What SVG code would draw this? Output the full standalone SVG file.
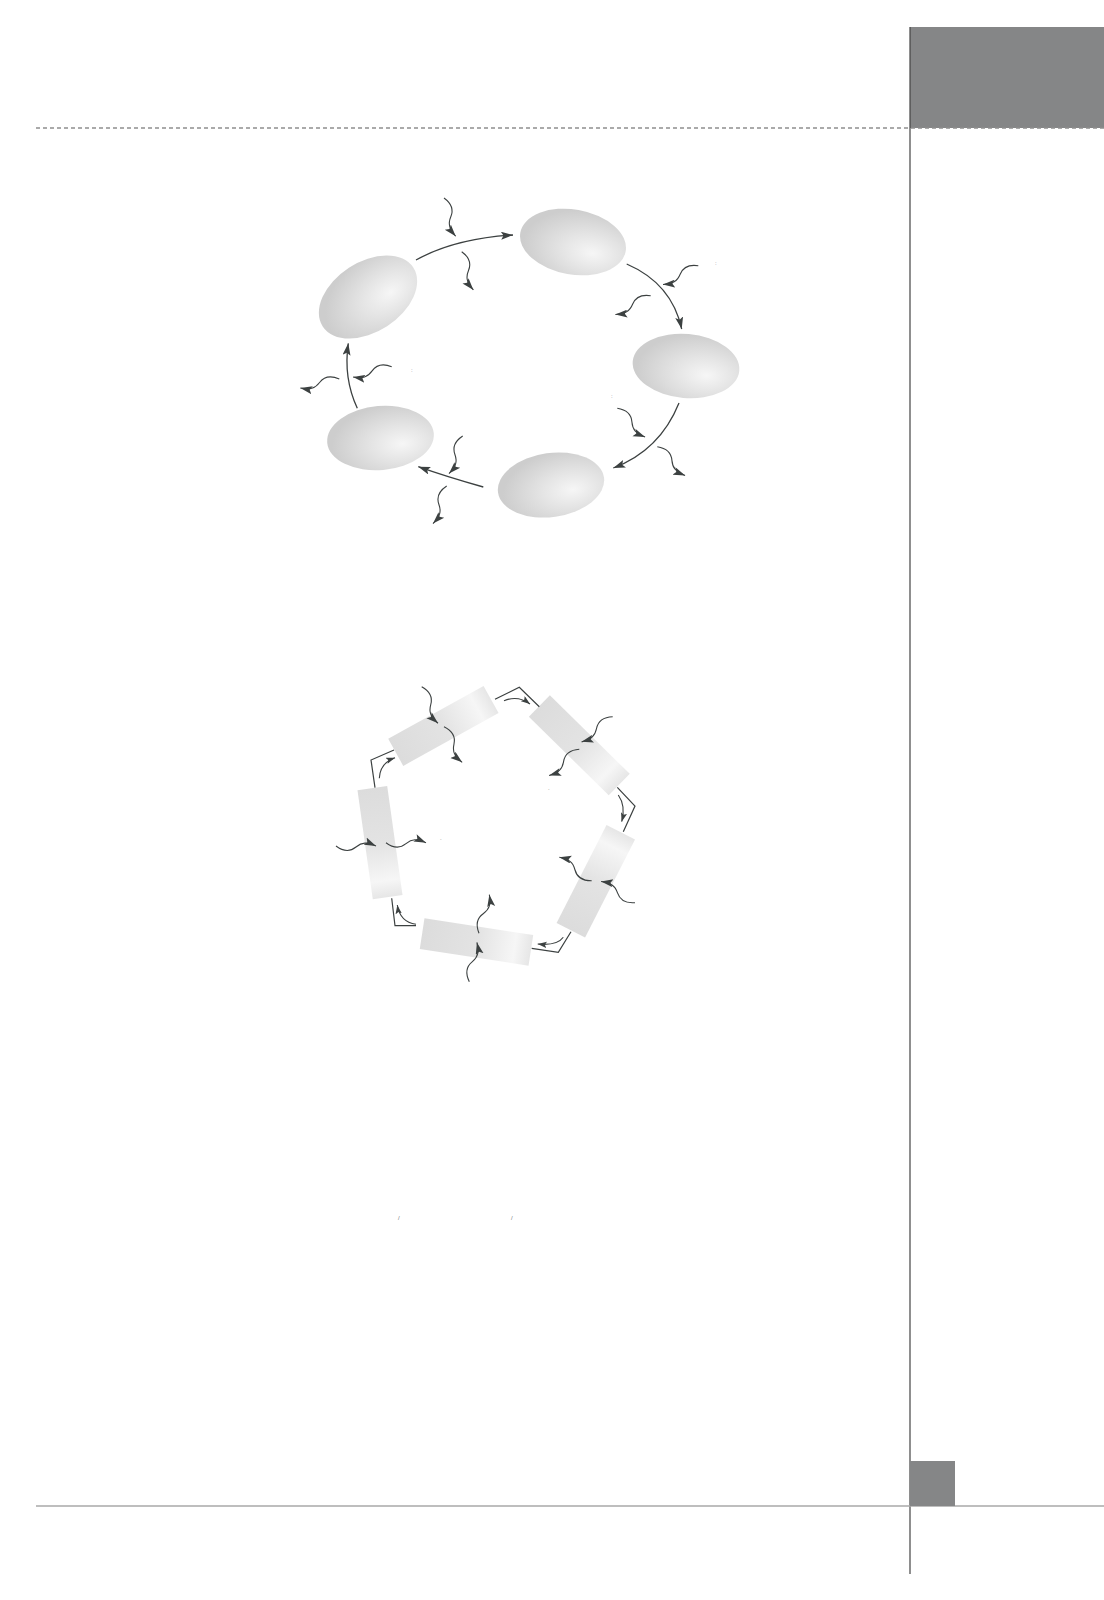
<svg xmlns="http://www.w3.org/2000/svg" xmlns:xlink="http://www.w3.org/1999/xlink" width="1104" height="1600" viewBox="0 0 1104 1600">
<style>
.frame{fill:none;stroke:#444;stroke-width:1.2}
.dash{fill:none;stroke:#8f8f8f;stroke-width:1.4;stroke-dasharray:4 3}
.base{fill:none;stroke:#a8a8a8;stroke-width:1.5}
.tab{fill:#858687}
.cell{fill:url(#eg)}
.bar{fill:url(#bg)}
.link{fill:none;stroke:#3c4141;stroke-width:1.3;marker-end:url(#ah)}
.poly{fill:none;stroke:#3c4141;stroke-width:1.2}
.small{fill:none;stroke:#3c4141;stroke-width:1.1;marker-end:url(#ahs)}
.wave{fill:none;stroke:#3c4141;stroke-width:1.1;marker-end:url(#ah)}
.mark{font-family:"Liberation Sans",Arial,sans-serif;font-size:6px;fill:#777}
</style>
<defs>
<radialGradient id="eg" cx="0.66" cy="0.6" r="0.62" fx="0.7" fy="0.62">
<stop offset="0" stop-color="#f6f6f6"/>
<stop offset="0.45" stop-color="#e4e4e4"/>
<stop offset="1" stop-color="#cdcdcd"/>
</radialGradient>
<linearGradient id="bg" x1="0" y1="0" x2="1" y2="0">
<stop offset="0" stop-color="#dcdcdc"/>
<stop offset="0.5" stop-color="#e3e3e3"/>
<stop offset="0.85" stop-color="#f6f6f6"/>
<stop offset="1" stop-color="#e6e6e6"/>
</linearGradient>
<marker id="ah" markerUnits="userSpaceOnUse" markerWidth="13" markerHeight="9" refX="12" refY="4" orient="auto">
<path d="M0,0 L12,4 L0,8 L2.5,4 Z" fill="#3c4141"/>
</marker>
<marker id="ahs" markerUnits="userSpaceOnUse" markerWidth="10" markerHeight="7" refX="9" refY="3.2" orient="auto">
<path d="M0,0 L9,3.2 L0,6.4 L1.8,3.2 Z" fill="#3c4141"/>
</marker>
<path id="w" class="wave" d="M0,0 C8,-6 14,-6 20,-1 S31,4 40,0"/>
</defs>

<g id="page">
<rect class="tab" x="910" y="27" width="194" height="101"/>
<line class="dash" x1="36" y1="128" x2="1104" y2="128"/>
<line class="frame" x1="910" y1="27" x2="910" y2="1574"/>
<line class="base" x1="36" y1="1506" x2="1104" y2="1506"/>
<rect class="tab" x="910" y="1461" width="45" height="45"/>
</g>

<g id="cycle-top">
<g id="n1"><ellipse class="cell" cx="573" cy="242" rx="53.5" ry="32.5" transform="rotate(10 573 242)"/></g>
<g id="n2"><ellipse class="cell" cx="368" cy="297" rx="54" ry="35" transform="rotate(-33 368 297)"/></g>
<g id="n3"><ellipse class="cell" cx="686" cy="366" rx="53.5" ry="32" transform="rotate(5 686 366)"/></g>
<g id="n4"><ellipse class="cell" cx="551" cy="485" rx="53.5" ry="32" transform="rotate(-8 551 485)"/></g>
<g id="n5"><ellipse class="cell" cx="380.5" cy="438" rx="53.5" ry="32" transform="rotate(-5 380.5 438)"/></g>
</g>

<g id="connectors-top">
<path class="link" d="M416,260 Q455,238.5 513,235"/>
<path class="link" d="M626.7,264 Q671.8,283.5 681.7,329"/>
<path class="link" d="M679,403 Q659.8,450.5 613.3,468"/>
<path class="link" d="M483.3,487 Q447,477 418.3,466.7"/>
<path class="link" d="M357.3,408.3 Q343.2,377.6 348.3,343.3"/>
<use href="#w" transform="translate(444,198) rotate(73)"/>
<use href="#w" transform="translate(461.7,251.7) rotate(73)"/>
<use href="#w" transform="translate(698.3,265.7) rotate(152) scale(1,-1)"/>
<use href="#w" transform="translate(650.7,295.7) rotate(152) scale(1,-1)"/>
<use href="#w" transform="translate(617.3,408.3) rotate(46)"/>
<use href="#w" transform="translate(657.3,446.7) rotate(46)"/>
<use href="#w" transform="translate(462.7,436) rotate(110) scale(1,-1)"/>
<use href="#w" transform="translate(446.7,486) rotate(110) scale(1,-1)"/>
<use href="#w" transform="translate(391.7,366.7) rotate(165) scale(1,-1)"/>
<use href="#w" transform="translate(339.3,379) rotate(167) scale(1,-1)"/>
</g>

<g id="marks-top">
<text class="mark" x="715" y="265">:</text>
<text class="mark" x="411" y="372">:</text>
<text class="mark" x="611" y="398">:</text>
</g>

<g id="ring-bottom">
<g id="b1"><rect class="bar" x="-54.5" y="-15.5" width="109" height="31" transform="translate(443.4,725.9) rotate(-29)"/></g>
<g id="b2"><rect class="bar" x="-56" y="-15" width="112" height="30" transform="translate(579.3,745.3) rotate(44.5)"/></g>
<g id="b3"><rect class="bar" x="-55" y="-16" width="110" height="32" transform="translate(595.8,881.3) rotate(-63)"/></g>
<g id="b4"><rect class="bar" x="-55" y="-15.5" width="110" height="31" transform="translate(476.5,942) rotate(8.7)"/></g>
<g id="b5"><rect class="bar" x="-55" y="-15" width="110" height="30" transform="translate(380,842.6) rotate(82)"/></g>
</g>

<g id="connectors-bottom">
<polyline class="poly" points="495,699.3 519.3,687.3 539.3,706.7"/>
<polyline class="poly" points="617.3,787.3 635,806 623.3,831.7"/>
<polyline class="poly" points="571,931.7 558.3,952.3 531.7,948.3"/>
<polyline class="poly" points="416,925.7 395,925.7 391.7,898.3"/>
<polyline class="poly" points="375,787.7 371,760 394,750"/>
<path class="small" d="M504,700.7 Q518,695 530,704"/>
<path class="small" d="M618.3,795 Q626,806 621.7,821.7"/>
<path class="small" d="M563.3,937.3 Q557,946 537.7,944"/>
<path class="small" d="M416,924.3 Q400,922 397.3,905"/>
<path class="small" d="M379.3,778.3 Q380,763 395,757.7"/>
<use href="#w" transform="translate(421.7,686.7) rotate(66)"/>
<use href="#w" transform="translate(444,726.7) rotate(63)"/>
<use href="#w" transform="translate(612.7,716.7) rotate(141) scale(1,-1)"/>
<use href="#w" transform="translate(579.3,749.3) rotate(139) scale(1,-1)"/>
<use href="#w" transform="translate(635,902.7) rotate(-148)"/>
<use href="#w" transform="translate(591.7,880.7) rotate(-144)"/>
<use href="#w" transform="translate(469.3,981.7) rotate(-79)"/>
<use href="#w" transform="translate(479,933.3) rotate(-75)"/>
<use href="#w" transform="translate(336,846) rotate(0) scale(1,-1)"/>
<use href="#w" transform="translate(386,842.7) rotate(0) scale(1,-1)"/>
</g>

<g id="marks-bottom">
<text class="mark" x="548" y="790">.</text>
<text class="mark" x="440" y="840">.</text>
<text class="mark" x="398" y="1220">/</text>
<text class="mark" x="511" y="1220">/</text>
</g>
</svg>
